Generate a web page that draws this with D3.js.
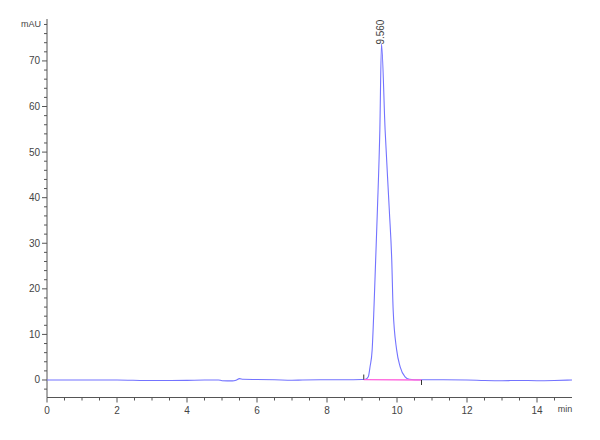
<!DOCTYPE html>
<html>
<head>
<meta charset="utf-8">
<script src="https://cdn.jsdelivr.net/npm/d3@7"></script>
<style>
  body { margin: 0; background: #fff; }
  text { font-family: "Liberation Sans", Arial, sans-serif; fill: #444; }
</style>
</head>
<body>
<div id="chart"></div>
<script>
// retention time (min) and signal (mAU)
var times = [0, 1, 2, 2.8, 3.3, 4, 4.5, 4.9, 5.0, 5.3, 5.4, 5.5, 5.6, 6, 6.5, 7.0, 7.3, 8, 8.5, 9.0, 9.1, 9.18, 9.23, 9.29,
    9.34, 9.39, 9.44, 9.51, 9.557, 9.66, 9.78, 9.85, 9.89, 9.99, 10.09, 10.23, 10.35, 10.5, 11, 12, 12.5, 13, 13.5, 14, 14.5, 15];
var signal = [0, 0, 0, -0.1, -0.12, -0.08, 0, 0, -0.15, -0.2, -0.05, 0.3, 0.15, 0.1, 0.05, -0.05, 0, 0.05, 0.05, 0.1, 0.15, 0.7, 2.9, 6.6,
    15.4, 26.3, 37.3, 54.9, 73.8, 54.9, 37.3, 26.3, 15.4, 6.6, 2.9, 0.7, 0.15, 0.05, 0.05, 0, -0.1, -0.15, -0.1, -0.15, -0.1, 0];

// integration baseline of the peak
var baseStart = [9.05, 0.1];
var baseEnd = [10.7, 0];
var peakTime = 9.56;
var peakHeight = 73.8;
var peakLabel = "9.560";

var xTicks = [0, 2, 4, 6, 8, 10, 12, 14];
var yTicks = [0, 10, 20, 30, 40, 50, 60, 70];

(() => {
    var width = 600;
    var height = 440;

    var svg = d3.select("#chart")
        .append("svg")
        .attr("width", width)
        .attr("height", height);

    var xScale = d3.scaleLinear()
        .domain([0, 15])
        .range([47, 572]);

    var yScale = d3.scaleLinear()
        .domain([-3.84, 79.2])
        .range([397.5, 19]);

    // x axis
    var xAxis = svg.append("g")
        .attr("transform", "translate(0," + yScale(-3.84) + ")");
    xAxis.append("line")
        .attr("x1", xScale(0)).attr("x2", xScale(15))
        .attr("stroke", "#555");
    xAxis.selectAll(".minor")
        .data(d3.range(0, 15, 0.5))
        .join("line")
        .attr("x1", d => xScale(d)).attr("x2", d => xScale(d))
        .attr("y1", 0)
        .attr("y2", d => d % 2 === 0 ? 5 : 3)
        .attr("stroke", "#555");
    xAxis.selectAll(".lbl")
        .data(xTicks)
        .join("text")
        .attr("x", d => xScale(d))
        .attr("y", 16)
        .attr("text-anchor", "middle")
        .attr("font-size", "10px")
        .text(d => d);
    xAxis.append("text")
        .attr("x", xScale(14.8))
        .attr("y", 14)
        .attr("text-anchor", "middle")
        .attr("font-size", "9px")
        .text("min");

    // y axis
    var yAxis = svg.append("g")
        .attr("transform", "translate(" + xScale(0) + ",0)");
    yAxis.append("line")
        .attr("y1", yScale(-3.84)).attr("y2", yScale(79.2))
        .attr("stroke", "#555");
    yAxis.selectAll(".minor")
        .data(d3.range(-2, 79, 2))
        .join("line")
        .attr("y1", d => yScale(d)).attr("y2", d => yScale(d))
        .attr("x1", 0)
        .attr("x2", d => d % 10 === 0 ? -5 : -3)
        .attr("stroke", "#555");
    yAxis.selectAll(".lbl")
        .data(yTicks)
        .join("text")
        .attr("x", -7)
        .attr("y", d => yScale(d) + 3.5)
        .attr("text-anchor", "end")
        .attr("font-size", "10px")
        .text(d => d);
    yAxis.append("text")
        .attr("x", -6)
        .attr("y", yScale(78) + 3)
        .attr("text-anchor", "end")
        .attr("font-size", "9px")
        .text("mAU");

    // trace
    var line = d3.line()
        .x((d, i) => xScale(times[i]))
        .y(d => yScale(d))
        .curve(d3.curveMonotoneX);

    svg.append("path")
        .datum(signal)
        .attr("d", line)
        .attr("fill", "none")
        .attr("stroke", "#7373ff")
        .attr("stroke-width", 1.1);

    // baseline + markers
    svg.append("line")
        .attr("x1", xScale(baseStart[0])).attr("y1", yScale(baseStart[1]))
        .attr("x2", xScale(baseEnd[0])).attr("y2", yScale(baseEnd[1]))
        .attr("stroke", "#ff66dd")
        .attr("stroke-width", 1.3);
    svg.append("line")
        .attr("x1", xScale(baseStart[0])).attr("x2", xScale(baseStart[0]))
        .attr("y1", yScale(baseStart[1])).attr("y2", yScale(baseStart[1]) - 5)
        .attr("stroke", "#333");
    svg.append("line")
        .attr("x1", xScale(baseEnd[0])).attr("x2", xScale(baseEnd[0]))
        .attr("y1", yScale(baseEnd[1])).attr("y2", yScale(baseEnd[1]) + 5)
        .attr("stroke", "#333");

    // peak label
    svg.append("text")
        .attr("transform", "translate(" + (xScale(peakTime) + 2.5) + "," + (yScale(peakHeight) + 1) + ") rotate(-90)")
        .attr("text-anchor", "start")
        .attr("font-size", "10px")
        .attr("fill", "#444")
        .text(peakLabel);
})();
</script>
</body>
</html>
